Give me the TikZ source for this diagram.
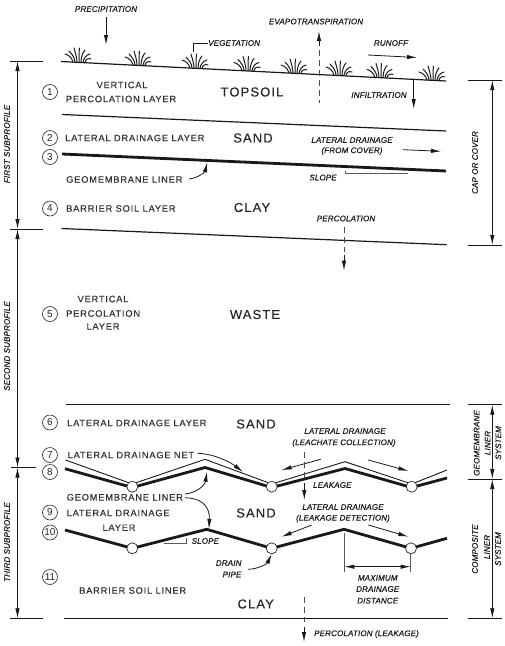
\documentclass[tikz,border=0pt]{standalone}
\usepackage{fontspec}
\usetikzlibrary{arrows.meta}
\setmainfont{Liberation Sans}
\newfontfamily\spacedfont[LetterSpace=8.5,FakeBold=0.25]{Liberation Sans}
\newfontfamily\noteface[LetterSpace=2,FakeBold=0.5]{Liberation Sans Italic}
\tikzset{
  x=1pt,y=-1pt,
  ink/.style={draw=black!90},
  thinline/.style={ink,line width=0.9pt},
  layerline/.style={ink,line width=1.2pt},
  linerline/.style={ink,line width=2.8pt,line join=miter},
  greyline/.style={draw=black!65,line width=0.9pt},
  arrowline/.style={ink,line width=0.8pt,-{Latex[length=10pt,width=4.4pt]}},
  bothline/.style={ink,line width=0.8pt,{Latex[length=10pt,width=4.4pt]}-{Latex[length=10pt,width=4.4pt]}},
  dashline/.style={draw=black!70,line width=0.9pt,dash pattern=on 6pt off 4pt},
  numcircle/.style={circle,draw=black!85,line width=0.6pt,minimum size=15pt,inner sep=0pt,font=\fontsize{10}{10}\selectfont,text=black!85},
  pipe/.style={circle,draw=black!85,line width=0.7pt,fill=white,minimum size=11pt,inner sep=0pt},
  lbl/.style={inner sep=0pt,text=black!80,font=\spacedfont\fontsize{9.3}{9.3}\selectfont},
  lblleft/.style={lbl,anchor=west},
  big/.style={inner sep=0pt,text=black!85,font=\spacedfont\fontsize{13}{13}\selectfont},
  note/.style={inner sep=0pt,text=black!90,font=\noteface\fontsize{8}{8}\selectfont},
  noteleft/.style={note,anchor=west},
  tuft/.pic={
    \draw[black!90,line width=1pt,line cap=round]
      (-5,0) .. controls (-6,-4) and (-9,-7) .. (-13,-8)
      (-3,0) .. controls (-3,-4) and (-6,-8) .. (-9,-11)
      (-1,0) .. controls (-1,-5) and (-3,-10) .. (-4,-14)
      (1,0) .. controls (1,-5) and (1,-10) .. (1.5,-14)
      (3,0) .. controls (3,-5) and (5,-10) .. (7,-12)
      (5,0) .. controls (6,-4) and (8,-7) .. (12,-8)
      (7,0) .. controls (8,-3) and (10,-4) .. (13,-3);
  }
}
\begin{document}
\begin{tikzpicture}
\useasboundingbox (0,0) rectangle (505,646);

% Anchor points of the layer boundaries
\coordinate (groundA) at (61,61.5);   \coordinate (groundB) at (446,81);
\coordinate (topA) at (62,114.5);     \coordinate (topB) at (446,131);
\coordinate (geoA) at (62,154);       \coordinate (geoB) at (446,171);
\coordinate (clayA) at (61.5,228.5);  \coordinate (clayB) at (446.5,244.7);
\coordinate (sandA) at (65.5,404.7);  \coordinate (sandB) at (450,404.7);
\coordinate (baseA) at (63.5,618.3);  \coordinate (baseB) at (447.5,618.3);

\draw[layerline] (groundA) -- (groundB);
\draw[layerline] (topA) -- (topB);
\draw[linerline] (geoA) -- (geoB);
\draw[layerline] (clayA) -- (clayB);
\draw[layerline] (sandA) -- (sandB);
\draw[layerline] (baseA) -- (baseB);

% Vegetation along the ground surface
\foreach \px/\py in {78/62,138/65,195/68,247/70.5,294/73,339/75,380/77.5,432/80}
  \pic at (\px,\py) {tuft};

% Drainage net and the two saw-tooth liners
\draw[thinline,line join=miter] (65.5,460) -- (132.3,484) -- (205,459.3) -- (271.7,484) -- (345,461.7) -- (411.7,484) -- (447,470);
\draw[linerline] (65,468.7) -- (132.3,487.5) -- (205,467.5) -- (271.7,487.5) -- (345,468.5) -- (411.7,487.5) -- (447,478);
\draw[linerline] (65,530) -- (132.3,548.3) -- (206.7,529.3) -- (271.7,548.3) -- (344,529.3) -- (411,548.3) -- (447,538.3);

% Drain pipes
\node[pipe] (pipeA) at (132.3,486.7) {};
\node[pipe] (pipeB) at (271.7,486.7) {};
\node[pipe] (pipeC) at (411.7,486.7) {};
\node[pipe] (pipeD) at (132.3,548.3) {};
\node[pipe] (pipeE) at (271.7,548.3) {};
\node[pipe] (pipeF) at (411,548.3) {};

% Numbered layers
\node[numcircle] (n1) at (50,92) {1};
\node[numcircle] (n2) at (50,138) {2};
\node[numcircle] (n3) at (50,157) {3};
\node[numcircle] (n4) at (50,208.5) {4};
\node[numcircle] (n5) at (50,314) {5};
\node[numcircle] (n6) at (50,422.5) {6};
\node[numcircle] (n7) at (50,455) {7};
\node[numcircle] (n8) at (50,472) {8};
\node[numcircle] (n9) at (50,512.5) {9};
\node[numcircle] (n10) at (50,532.5) {10};
\node[numcircle] (n11) at (50,577) {11};

% Layer names
\node[lbl] (t1a) at (122,85) {VERTICAL};
\node[lbl] (t1b) at (121,99) {PERCOLATION LAYER};
\node[big] (topsoil) at (252,92) {TOPSOIL};
\node[lblleft] (t2) at (65,138) {LATERAL DRAINAGE LAYER};
\node[big] (sand1) at (253,138) {SAND};
\node[lblleft] (t3) at (66,179.5) {GEOMEMBRANE LINER};
\node[lblleft] (t4) at (66,208.5) {BARRIER SOIL LAYER};
\node[big] (clay1) at (252,207.5) {CLAY};
\node[lbl] (t5a) at (103,299) {VERTICAL};
\node[lblleft] (t5b) at (66,313.5) {PERCOLATION};
\node[lbl] (t5c) at (103,326.5) {LAYER};
\node[big] (waste) at (255,314.5) {WASTE};
\node[lblleft] (t6) at (67,423) {LATERAL DRAINAGE LAYER};
\node[big] (sand2) at (256,424) {SAND};
\node[lblleft] (t7) at (67.5,455) {LATERAL DRAINAGE NET};
\node[lblleft] (t8) at (66.5,497.3) {GEOMEMBRANE LINER};
\node[lblleft] (t9) at (66.5,513) {LATERAL DRAINAGE};
\node[lbl] (t9b) at (119,527.7) {LAYER};
\node[big] (sand3) at (256,513) {SAND};
\node[lblleft] (t11) at (79,590.5) {BARRIER SOIL LINER};
\node[big] (clay2) at (255.7,604) {CLAY};

% Process notes
\node[note] (precip) at (106,9) {PRECIPITATION};
\node[note] (evapo) at (316,21.5) {EVAPOTRANSPIRATION};
\node[noteleft] (veg) at (208,43) {VEGETATION};
\node[note] (runoff) at (391,43) {RUNOFF};
\node[note] (infil) at (379,95) {INFILTRATION};
\node[note] (latA1) at (352,140) {LATERAL DRAINAGE};
\node[note] (latA2) at (352,151) {(FROM COVER)};
\node[note] (slopeA) at (323,177.5) {SLOPE};
\node[note] (perc) at (346,218.5) {PERCOLATION};
\node[note] (latB1) at (345,431) {LATERAL DRAINAGE};
\node[note] (latB2) at (344,443) {(LEACHATE COLLECTION)};
\node[noteleft] (leak) at (313,485) {LEAKAGE};
\node[note] (latC1) at (343,507) {LATERAL DRAINAGE};
\node[note] (latC2) at (343,518.5) {(LEAKAGE DETECTION)};
\node[noteleft] (slopeB) at (191.5,541) {SLOPE};
\node[note] (drain1) at (228.7,563) {DRAIN};
\node[note] (drain2) at (232,574.5) {PIPE};
\node[note] (max1) at (377.7,578) {MAXIMUM};
\node[note] (max2) at (377.7,589) {DRAINAGE};
\node[note] (max3) at (377.7,600.7) {DISTANCE};
\node[noteleft] (percB) at (314,634) {PERCOLATION (LEAKAGE)};

% Flow arrows
\coordinate (rainA) at (106,17);   \coordinate (rainB) at (106,45);
\draw[arrowline] (rainA) -- (rainB);
\coordinate (evA) at (319,50);     \coordinate (evB) at (319,103);
\coordinate (evC) at (319,46);     \coordinate (evD) at (319,31);
\draw[dashline] (evA) -- (evB);
\draw[arrowline] (evC) -- (evD);
\coordinate (roA) at (368,55);     \coordinate (roB) at (417,57.5);
\draw[arrowline] (roA) -- (roB);
\coordinate (inA) at (413.7,80);   \coordinate (inB) at (413.7,109);
\draw[arrowline] (inA) -- (inB);
\coordinate (ldA) at (403,149.7);  \coordinate (ldB) at (441,151.3);
\draw[arrowline] (ldA) -- (ldB);

\coordinate (pcA) at (344,226.5);  \coordinate (pcB) at (344,252);
\coordinate (pcC) at (344,255);    \coordinate (pcD) at (344,270.7);
\draw[dashline] (pcA) -- (pcB);
\draw[arrowline] (pcC) -- (pcD);

\coordinate (lcA) at (320.7,459.3); \coordinate (lcB) at (281.7,470);
\coordinate (lcC) at (368.3,460);   \coordinate (lcD) at (408.3,471);
\draw[arrowline] (lcA) -- (lcB);
\draw[arrowline] (lcC) -- (lcD);

\coordinate (lkA) at (304.3,452);  \coordinate (lkB) at (304.3,480);
\coordinate (lkC) at (304.3,483);  \coordinate (lkD) at (304.3,500);
\draw[dashline] (lkA) -- (lkB);
\draw[arrowline] (lkC) -- (lkD);

\coordinate (ldC1) at (311.7,525); \coordinate (ldC2) at (281.7,536.7);
\coordinate (ldC3) at (368.3,525); \coordinate (ldC4) at (408.3,536.7);
\draw[arrowline] (ldC1) -- (ldC2);
\draw[arrowline] (ldC3) -- (ldC4);

\coordinate (pbA) at (304,597);    \coordinate (pbB) at (304,622);
\coordinate (pbC) at (304,627);    \coordinate (pbD) at (304,642);
\draw[dashline] (pbA) -- (pbB);
\draw[arrowline] (pbC) -- (pbD);

% Leaders from labels to the features they name
\draw[thinline] (193,52) -- (193,43) -- (veg.west);
\coordinate (gmA) at (189,179);    \coordinate (gmB) at (207.3,162.3);
\draw[arrowline] (gmA) .. controls (198,178) and (205,172) .. (gmB);
\coordinate (netA) at (197.7,453.3); \coordinate (netB) at (243,472);
\draw[arrowline] (netA) .. controls (215,454) and (230,462) .. (netB);
\coordinate (glA) at (185,494);    \coordinate (glB) at (207,471.7);
\draw[arrowline] (glA) .. controls (197,493) and (205,485) .. (glB);
\coordinate (gcA) at (185,497.7);  \coordinate (gcB) at (209,529);
\draw[arrowline] (gcA) .. controls (200,498) and (210,505) .. (gcB);
\coordinate (dpA) at (248,569.3);  \coordinate (dpB) at (271.7,554);
\draw[arrowline] (dpA) .. controls (258,569) and (267,564) .. (dpB);

% Slope symbols and the drainage distance dimension
\draw[greyline] (345.7,171) -- (345.7,173.5) -- (408,173.5);
\draw[greyline] (164,543.3) -- (186,543.3) -- (186,538);
\coordinate (mdA) at (344.3,533);  \coordinate (mdB) at (344.3,571.7);
\coordinate (mdC) at (410.7,553);  \coordinate (mdD) at (410.7,571.7);
\draw[greyline] (mdA) -- (mdB);
\draw[greyline] (mdC) -- (mdD);
\coordinate (mdE) at (344.3,566.7); \coordinate (mdF) at (410.7,566.7);
\draw[bothline] (mdE) -- (mdF);

% Subprofile dimensions on the left
\coordinate (lA) at (17.5,61);  \coordinate (lB) at (17.5,229);
\coordinate (lC) at (17.5,467.5); \coordinate (lD) at (17.5,618.3);
\draw[thinline] (10,61) -- (43,61);
\draw[thinline] (10,229) -- (43,229);
\draw[thinline] (11,467.5) -- (36,467.5);
\draw[thinline] (10,618.3) -- (43,618.3);
\draw[bothline] (lA) -- (lB);
\draw[bothline] (lB) -- (lC);
\draw[bothline] (lC) -- (lD);
\node[note,rotate=90] (first) at (7,144) {FIRST SUBPROFILE};
\node[note,rotate=90] (second) at (7,346) {SECOND SUBPROFILE};
\node[note,rotate=90] (third) at (7,542) {THIRD SUBPROFILE};

% System dimensions on the right
\coordinate (rA) at (492.3,80);  \coordinate (rB) at (492.3,245);
\coordinate (rC) at (492.3,404.7); \coordinate (rD) at (492.3,479); \coordinate (rE) at (492.3,618.3);
\draw[thinline] (468,80) -- (502,80);
\draw[thinline] (468,245) -- (502,245);
\draw[thinline] (468,404.7) -- (502,404.7);
\draw[thinline] (468,479) -- (502,479);
\draw[thinline] (468,618.3) -- (502,618.3);
\draw[bothline] (rA) -- (rB);
\draw[bothline] (rC) -- (rD);
\draw[bothline] (rD) -- (rE);
\node[note,rotate=90] (cap) at (475,162.5) {CAP OR COVER};
\node[note,rotate=90] (gs1) at (476.7,443) {GEOMEMBRANE};
\node[note,rotate=90] (gs2) at (487.7,443) {LINER};
\node[note,rotate=90] (gs3) at (498.3,443) {SYSTEM};
\node[note,rotate=90] (cs1) at (475,549) {COMPOSITE};
\node[note,rotate=90] (cs2) at (487,547) {LINER};
\node[note,rotate=90] (cs3) at (498,549) {SYSTEM};
\end{tikzpicture}
\end{document}
